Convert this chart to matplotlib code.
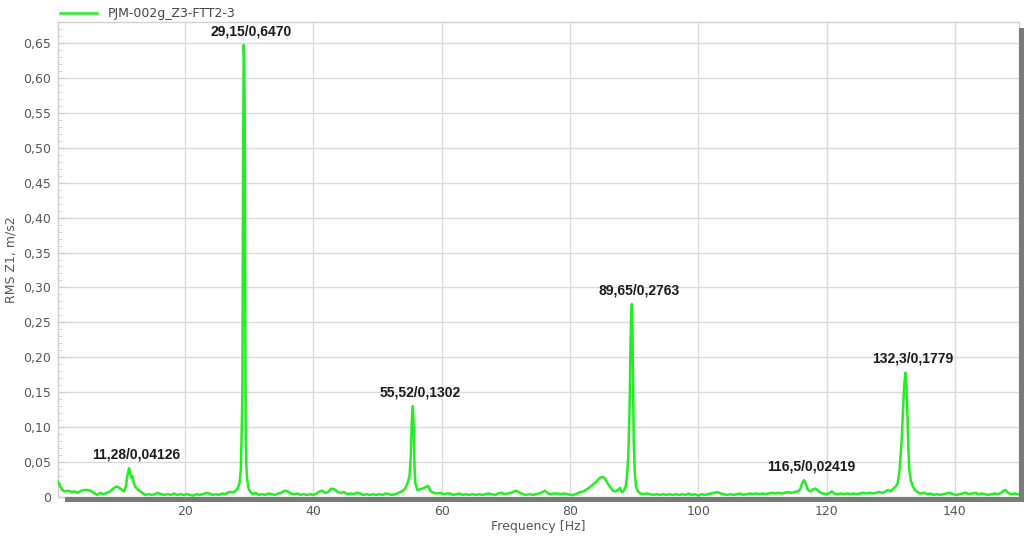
import matplotlib
matplotlib.use("Agg")
import matplotlib.pyplot as plt
from matplotlib.patches import Rectangle
from matplotlib.ticker import MultipleLocator, FuncFormatter

# ── Spectrum (frequency in Hz, RMS amplitude in m/s2) ───────────────────────
freq = [
    0.2, 0.5, 0.9, 1.3, 1.8, 2.3, 2.8, 3.3, 3.8, 4.3, 4.8, 5.3, 5.8, 6.3, 6.8, 7.3,
    7.8, 8.3, 8.8, 9.3, 9.8, 10.2, 10.5, 10.8, 11.0, 11.15, 11.28, 11.45, 11.6, 11.8,
    12.0, 12.3, 12.7, 13.2, 13.8, 14.3, 14.8, 15.3, 15.8, 16.3, 16.8, 17.3, 17.8, 18.3,
    18.8, 19.3, 19.8, 20.3, 20.8, 21.3, 21.8, 22.3, 22.8, 23.3, 23.8, 24.3, 24.8, 25.3,
    25.8, 26.3, 26.8, 27.3, 27.8, 28.2, 28.5, 28.7, 28.85, 28.95, 29.05, 29.15, 29.22,
    29.3, 29.38, 29.45, 29.55, 29.7, 29.9, 30.2, 30.6, 31.0, 31.5, 32.0, 32.5, 33.0,
    33.5, 34.0, 34.5, 35.0, 35.5, 36.0, 36.5, 37.0, 37.5, 38.0, 38.5, 39.0, 39.5, 40.0,
    40.5, 41.0, 41.4, 41.8, 42.3, 42.8, 43.3, 43.8, 44.3, 44.8, 45.3, 45.8, 46.3, 46.8,
    47.3, 47.8, 48.3, 48.8, 49.3, 49.8, 50.3, 50.8, 51.3, 51.8, 52.3, 52.8, 53.3, 53.8,
    54.3, 54.7, 55.0, 55.2, 55.35, 55.52, 55.65, 55.75, 55.9, 56.2, 56.6, 57.0, 57.5,
    57.9, 58.3, 58.8, 59.3, 59.8, 60.3, 60.8, 61.3, 61.8, 62.3, 62.8, 63.3, 63.8, 64.3,
    64.8, 65.3, 65.8, 66.3, 66.8, 67.3, 67.8, 68.3, 68.8, 69.3, 69.8, 70.3, 70.8, 71.3,
    71.7, 72.2, 72.7, 73.2, 73.7, 74.2, 74.7, 75.2, 75.7, 76.1, 76.6, 77.1, 77.6, 78.1,
    78.6, 79.1, 79.6, 80.1, 80.6, 81.1, 81.6, 82.1, 82.6, 83.1, 83.6, 84.1, 84.6, 85.1,
    85.5, 85.9, 86.3, 86.7, 87.1, 87.5, 87.8, 88.1, 88.4, 88.7, 88.9, 89.1, 89.3, 89.45,
    89.55, 89.65, 89.75, 89.85, 89.95, 90.1, 90.3, 90.6, 91.0, 91.5, 92.0, 92.5, 93.0,
    93.5, 94.0, 94.5, 95.0, 95.5, 96.0, 96.5, 97.0, 97.5, 98.0, 98.5, 99.0, 99.5, 100.0,
    100.5, 101.0, 101.5, 102.0, 102.5, 103.0, 103.5, 104.0, 104.5, 105.0, 105.5, 106.0,
    106.5, 107.0, 107.5, 108.0, 108.5, 109.0, 109.5, 110.0, 110.5, 111.0, 111.5, 112.0,
    112.5, 113.0, 113.5, 114.0, 114.5, 115.0, 115.5, 115.9, 116.2, 116.5, 116.8, 117.1,
    117.5, 117.9, 118.3, 118.7, 119.1, 119.5, 120.0, 120.5, 120.8, 121.2, 121.7, 122.2,
    122.7, 123.2, 123.7, 124.2, 124.7, 125.2, 125.7, 126.2, 126.7, 127.2, 127.7, 128.2,
    128.7, 129.2, 129.6, 130.0, 130.4, 130.8, 131.1, 131.4, 131.7, 131.9, 132.1, 132.3,
    132.45, 132.6, 132.75, 132.9, 133.1, 133.4, 133.8, 134.2, 134.7, 135.2, 135.7, 136.2,
    136.7, 137.2, 137.7, 138.2, 138.7, 139.2, 139.7, 140.2, 140.7, 141.2, 141.7, 142.2,
    142.7, 143.2, 143.7, 144.2, 144.7, 145.2, 145.7, 146.2, 146.7, 147.2, 147.6, 147.9,
    148.3, 148.8, 149.3, 149.8, 150.0,
]
rms = [
    0.022, 0.016, 0.010, 0.008, 0.009, 0.007, 0.008, 0.006, 0.009, 0.010, 0.010, 0.009,
    0.006, 0.003, 0.006, 0.004, 0.006, 0.008, 0.012, 0.015, 0.013, 0.010, 0.008, 0.016,
    0.030, 0.036, 0.04126, 0.035, 0.028, 0.030, 0.020, 0.014, 0.010, 0.007, 0.003, 0.004,
    0.003, 0.004, 0.006, 0.004, 0.003, 0.004, 0.003, 0.005, 0.003, 0.004, 0.003, 0.004,
    0.003, 0.002, 0.004, 0.003, 0.004, 0.006, 0.005, 0.003, 0.004, 0.003, 0.005, 0.004,
    0.007, 0.007, 0.008, 0.012, 0.020, 0.040, 0.100, 0.160, 0.470, 0.6470, 0.630, 0.550,
    0.300, 0.100, 0.045, 0.025, 0.012, 0.007, 0.004, 0.006, 0.003, 0.004, 0.003, 0.005,
    0.004, 0.003, 0.005, 0.006, 0.009, 0.008, 0.005, 0.004, 0.005, 0.003, 0.004, 0.003,
    0.004, 0.003, 0.005, 0.008, 0.009, 0.006, 0.007, 0.012, 0.011, 0.007, 0.006, 0.007,
    0.004, 0.005, 0.004, 0.006, 0.005, 0.003, 0.004, 0.003, 0.004, 0.003, 0.004, 0.003,
    0.005, 0.004, 0.003, 0.004, 0.006, 0.008, 0.012, 0.020, 0.030, 0.060, 0.110, 0.1302,
    0.100, 0.050, 0.020, 0.010, 0.011, 0.012, 0.014, 0.016, 0.008, 0.006, 0.005, 0.006,
    0.004, 0.005, 0.005, 0.003, 0.004, 0.005, 0.003, 0.004, 0.003, 0.004, 0.003, 0.004,
    0.003, 0.004, 0.005, 0.004, 0.003, 0.005, 0.006, 0.004, 0.005, 0.006, 0.008, 0.009,
    0.006, 0.004, 0.003, 0.004, 0.003, 0.004, 0.005, 0.007, 0.009, 0.005, 0.004, 0.005,
    0.005, 0.004, 0.005, 0.004, 0.003, 0.003, 0.005, 0.007, 0.008, 0.011, 0.014, 0.018,
    0.022, 0.027, 0.029, 0.026, 0.019, 0.014, 0.009, 0.008, 0.010, 0.013, 0.007, 0.009,
    0.015, 0.030, 0.060, 0.130, 0.220, 0.260, 0.2763, 0.240, 0.150, 0.080, 0.035, 0.015,
    0.008, 0.005, 0.004, 0.005, 0.004, 0.003, 0.004, 0.003, 0.004, 0.003, 0.004, 0.003,
    0.004, 0.003, 0.004, 0.003, 0.005, 0.003, 0.004, 0.002, 0.004, 0.003, 0.004, 0.005,
    0.006, 0.007, 0.005, 0.004, 0.003, 0.004, 0.003, 0.004, 0.005, 0.003, 0.004, 0.005,
    0.004, 0.005, 0.004, 0.005, 0.004, 0.005, 0.006, 0.005, 0.006, 0.005, 0.006, 0.007,
    0.006, 0.007, 0.008, 0.011, 0.020, 0.02419, 0.018, 0.010, 0.008, 0.011, 0.012, 0.009,
    0.006, 0.005, 0.004, 0.006, 0.008, 0.005, 0.004, 0.005, 0.004, 0.005, 0.004, 0.005,
    0.004, 0.005, 0.006, 0.005, 0.006, 0.005, 0.006, 0.007, 0.006, 0.008, 0.010, 0.008,
    0.012, 0.015, 0.020, 0.040, 0.080, 0.120, 0.160, 0.1779, 0.160, 0.120, 0.070, 0.040,
    0.025, 0.016, 0.010, 0.007, 0.005, 0.006, 0.004, 0.005, 0.003, 0.004, 0.003, 0.004,
    0.005, 0.006, 0.004, 0.003, 0.004, 0.005, 0.006, 0.004, 0.005, 0.006, 0.004, 0.005,
    0.004, 0.003, 0.004, 0.005, 0.004, 0.006, 0.009, 0.010, 0.006, 0.004, 0.005, 0.004,
    0.004,
]

# Marked peaks: frequency, amplitude and the text shown above each one
peak_freq = [11.28, 29.15, 55.52, 89.65, 116.5, 132.3]
peak_rms = [0.04126, 0.6470, 0.1302, 0.2763, 0.02419, 0.1779]
peak_text = ["11,28/0,04126", "29,15/0,6470", "55,52/0,1302",
             "89,65/0,2763", "116,5/0,02419", "132,3/0,1779"]

series_name = "PJM-002g_Z3-FTT2-3"

W, H = 1028, 536
fig = plt.figure(figsize=(W / 100, H / 100), dpi=100)
ax = fig.add_axes([58 / W, 1 - 497 / H, (1019 - 58) / W, (497 - 22) / H])

ax.plot(freq, rms, color="#22ee22", lw=1.8, label=series_name, zorder=3)

for f, a, s in zip(peak_freq, peak_rms, peak_text):
    ax.annotate(s, (f, a), xytext=(5, 5), textcoords="offset points",
                ha="center", va="bottom", fontsize=10, fontweight="bold",
                family="Liberation Sans", color="#1a1a1a", zorder=4)

ax.set_xlim(0.2, 150)
ax.set_ylim(0, 0.68)
ax.xaxis.set_major_locator(MultipleLocator(20))
ax.yaxis.set_major_locator(MultipleLocator(0.05))
ax.yaxis.set_minor_locator(MultipleLocator(0.01))
ax.yaxis.set_major_formatter(FuncFormatter(
    lambda v, _: "0" if abs(v) < 1e-9 else f"{v:.2f}".replace(".", ",")))

ax.grid(True, which="major", color="#dadada", lw=1.0, zorder=0)
ax.tick_params(axis="x", length=0, pad=6, labelsize=9, labelcolor="#555555")
ax.tick_params(axis="y", which="major", direction="in", length=5,
               color="#cccccc", labelsize=9, labelcolor="#555555", pad=5)
ax.tick_params(axis="y", which="minor", direction="in", length=3, color="#cccccc")
for sp in ax.spines.values():
    sp.set_color("#d0d0d0")
    sp.set_linewidth(1.0)

ax.set_xlabel("Frequency [Hz]", fontsize=9, color="#555555", labelpad=1)
ax.set_ylabel("RMS Z1, m/s2", fontsize=9, color="#555555", labelpad=4)

# drop shadow along the bottom and right edges of the plot frame
shade = "#7a7a7a"
fig.add_artist(Rectangle((65 / W, 1 - 502 / H), (1024 - 65) / W, 5 / H,
                         transform=fig.transFigure, color=shade, lw=0))
fig.add_artist(Rectangle((1019 / W, 1 - 502 / H), 5 / W, (502 - 28) / H,
                         transform=fig.transFigure, color=shade, lw=0))

ax.legend(loc="lower left", bbox_to_anchor=(0.0, 1.0), frameon=False,
          fontsize=9, handlelength=3.0, borderaxespad=0.05, borderpad=0.1,
          labelcolor="#444444")

fig.savefig("out.png", dpi=100)
